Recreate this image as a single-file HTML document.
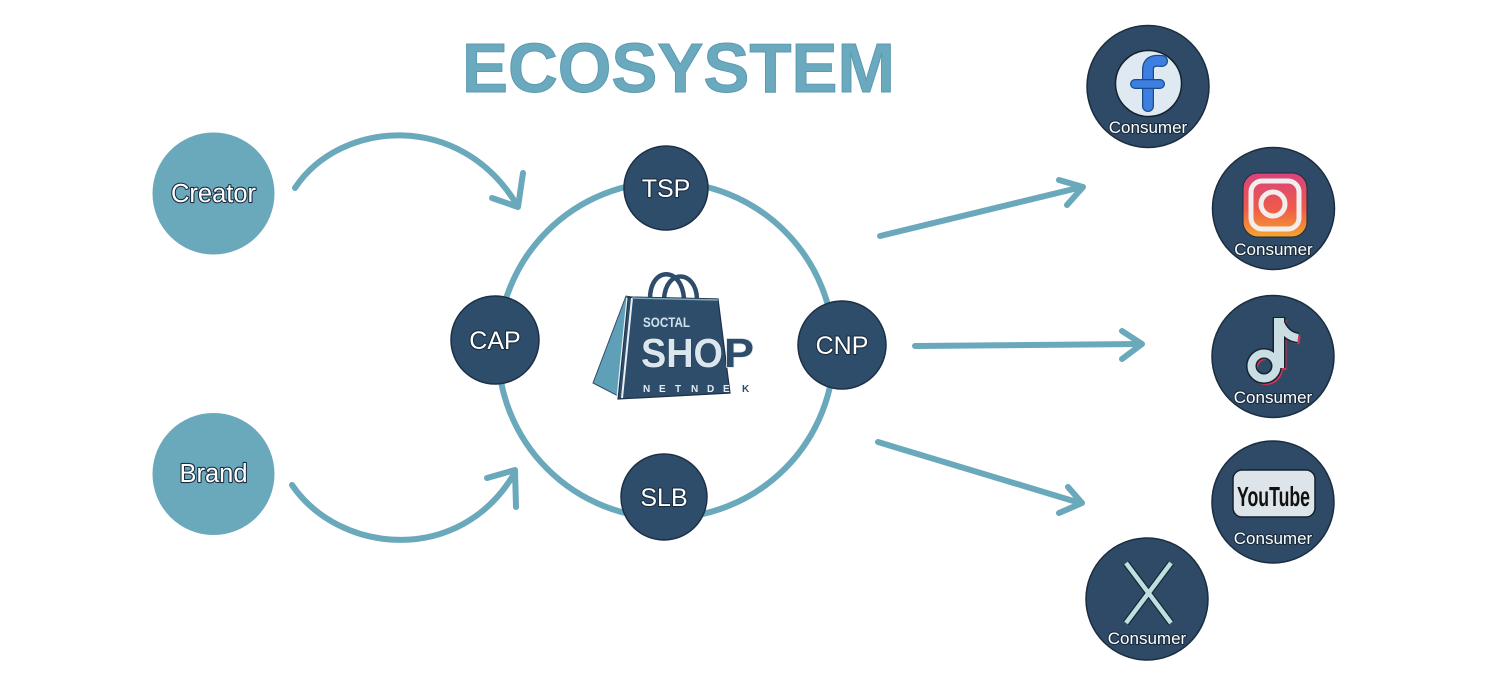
<!DOCTYPE html>
<html>
<head>
<meta charset="utf-8">
<style>
  html,body{margin:0;padding:0;background:#fff;}
  svg{display:block;}
  .lbl{font-family:"Liberation Sans",sans-serif;fill:#fff;stroke:#1a2c3f;stroke-width:2.2px;paint-order:stroke;stroke-linejoin:round;}
</style>
</head>
<body>
<svg width="1500" height="678" viewBox="0 0 1500 678" xmlns="http://www.w3.org/2000/svg">
  <!-- Title -->
  <text x="462" y="92" font-family="Liberation Sans, sans-serif" font-weight="bold" font-size="70" fill="#6aa9be" stroke="#5b9ab1" stroke-width="1" textLength="433" lengthAdjust="spacingAndGlyphs">ECOSYSTEM</text>

  <!-- Creator / Brand -->
  <circle cx="213.5" cy="193.5" r="61" fill="#6aa8bb"/>
  <text class="lbl" x="213.5" y="202" font-size="25.5" text-anchor="middle">Creator</text>
  <circle cx="213.5" cy="474" r="61" fill="#6aa8bb"/>
  <text class="lbl" x="213.5" y="482" font-size="25.5" text-anchor="middle">Brand</text>

  <!-- curved arrows -->
  <g fill="none" stroke="#6aa8bb" stroke-width="6" stroke-linecap="round" stroke-linejoin="round">
    <path d="M295 188 C340 120, 460 110, 517 205"/>
    <polyline points="523,173 518,207 492,198"/>
    <path d="M292 485 C340 555, 460 565, 514 474"/>
    <polyline points="487,478 515,470 516,507"/>
    <!-- right arrows -->
    <line x1="880" y1="236" x2="1082" y2="187"/>
    <polyline points="1059,180 1083,187 1067,205"/>
    <line x1="915" y1="346" x2="1140" y2="344"/>
    <polyline points="1122,331 1142,344 1122,359"/>
    <line x1="878" y1="442" x2="1080" y2="503"/>
    <polyline points="1068,487 1082,503 1059,513"/>
  </g>

  <!-- ring -->
  <circle cx="666" cy="350" r="168" fill="none" stroke="#6aa8bb" stroke-width="6"/>

  <!-- ring nodes -->
  <g fill="#2e4d6a" stroke="#1c3047" stroke-width="1.5">
    <circle cx="666" cy="188" r="42"/>
    <circle cx="495" cy="340" r="44"/>
    <circle cx="842" cy="345" r="44"/>
    <circle cx="664" cy="497" r="43"/>
  </g>
  <text class="lbl" x="666" y="197" font-size="25" text-anchor="middle">TSP</text>
  <text class="lbl" x="495" y="349" font-size="25" text-anchor="middle">CAP</text>
  <text class="lbl" x="842" y="354" font-size="25" text-anchor="middle">CNP</text>
  <text class="lbl" x="664" y="506" font-size="25" text-anchor="middle">SLB</text>

  <!-- shopping bag -->
  <g>
    <path d="M650 299 C650 266, 682 266, 684 299" fill="none" stroke="#2e4d6a" stroke-width="4.5"/>
    <path d="M664 299 C666 268, 696 270, 697 299" fill="none" stroke="#2e4d6a" stroke-width="4.5"/>
    <polygon points="626,296 593,383 622,398 632,297" fill="#5f9fb8" stroke="#2e4d6a" stroke-width="1"/>
    <polygon points="628,297 718,299 730,393 618,399" fill="#2e4d6a" stroke="#1c3047" stroke-width="1.2"/>
    <line x1="632" y1="298" x2="622" y2="398" stroke="#e8f0f4" stroke-width="2"/>
    <line x1="627" y1="298" x2="617" y2="398" stroke="#e8f0f4" stroke-width="1.2"/>
    <line x1="632" y1="298" x2="718" y2="300" stroke="#7fa9c0" stroke-width="1.5"/>
    <text x="643" y="327" font-family="Liberation Sans, sans-serif" font-weight="bold" font-size="14" fill="#cfe2ec" textLength="47" lengthAdjust="spacingAndGlyphs">SOCTAL</text>
    <text x="641" y="367" font-family="Liberation Sans, sans-serif" font-weight="bold" font-size="41" fill="#dbe7ee" stroke="#1c3047" stroke-width="1" paint-order="stroke" textLength="82" lengthAdjust="spacingAndGlyphs">SHO</text>
    <text x="724" y="367" font-family="Liberation Sans, sans-serif" font-weight="bold" font-size="41" fill="#2e4d6a" stroke="#dbe7ee" stroke-width="1.5" paint-order="stroke" textLength="30" lengthAdjust="spacingAndGlyphs">P</text>
    <g font-family="Liberation Sans, sans-serif" font-weight="bold" font-size="10" fill="#e3ecf1">
      <text x="643" y="392">N</text>
      <text x="659" y="392">E</text>
      <text x="675" y="392">T</text>
      <text x="691" y="392">N</text>
      <text x="707" y="392">D</text>
      <text x="723" y="392">E</text>
      <text x="742" y="392" fill="#2e4d6a">K</text>
    </g>
  </g>

  <!-- consumer circles -->
  <g fill="#2e4a66" stroke="#1b2d40" stroke-width="1.5">
    <circle cx="1148" cy="86.5" r="61"/>
    <circle cx="1273.5" cy="208.5" r="61"/>
    <circle cx="1273" cy="356.5" r="61"/>
    <circle cx="1273" cy="502" r="61"/>
    <circle cx="1147" cy="599" r="61"/>
  </g>

  <!-- Facebook -->
  <circle cx="1148.5" cy="83.5" r="33" fill="#dfe9f2" stroke="#14212f" stroke-width="1.5"/>
  <path d="M1148 106 L1148 70 C1148 62, 1153 60, 1162 61" fill="none" stroke="#1d4a8a" stroke-width="12" stroke-linecap="round"/>
  <path d="M1148 106 L1148 70 C1148 62, 1153 60, 1162 61" fill="none" stroke="#3d7fe0" stroke-width="9.5" stroke-linecap="round"/>
  <line x1="1135" y1="84" x2="1160" y2="84" stroke="#1d4a8a" stroke-width="10" stroke-linecap="round"/>
  <line x1="1135" y1="84" x2="1160" y2="84" stroke="#3d7fe0" stroke-width="7.5" stroke-linecap="round"/>
  <text class="lbl" x="1148" y="133" font-size="17" text-anchor="middle">Consumer</text>

  <!-- Instagram -->
  <defs>
    <linearGradient id="ig" x1="0" y1="0" x2="0" y2="1">
      <stop offset="0" stop-color="#d8437e"/>
      <stop offset="0.55" stop-color="#ee5a4a"/>
      <stop offset="1" stop-color="#f6a42c"/>
    </linearGradient>
  </defs>
  <rect x="1243" y="173" width="64" height="64" rx="15" fill="url(#ig)" stroke="#1b2d40" stroke-width="1"/>
  <rect x="1251" y="181" width="48" height="48" rx="11" fill="none" stroke="#f3eeee" stroke-width="5"/>
  <circle cx="1273" cy="204" r="12" fill="none" stroke="#f3eeee" stroke-width="5"/>
  <text class="lbl" x="1273.5" y="255" font-size="17" text-anchor="middle">Consumer</text>

  <!-- TikTok -->
  <g fill="none" stroke-linecap="butt">
    <g transform="translate(2,2)" stroke="#d23350">
      <circle cx="1264" cy="366" r="12.5" stroke-width="9"/>
      <line x1="1279" y1="318" x2="1279" y2="368" stroke-width="11"/>
      <path d="M1279 320 Q1284 336 1298 338" stroke-width="9"/>
    </g>
    <g stroke="#16222f">
      <circle cx="1264" cy="366" r="12.5" stroke-width="11"/>
      <line x1="1279" y1="317" x2="1279" y2="368" stroke-width="13"/>
      <path d="M1279 320 Q1284 336 1298 338" stroke-width="11"/>
    </g>
    <g stroke="#c9dde2">
      <circle cx="1264" cy="366" r="12.5" stroke-width="8"/>
      <line x1="1279" y1="318" x2="1279" y2="368" stroke-width="10"/>
      <path d="M1279 320 Q1284 336 1298 338" stroke-width="8"/>
    </g>
  </g>
  <text class="lbl" x="1273" y="403" font-size="17" text-anchor="middle">Consumer</text>

  <!-- YouTube -->
  <rect x="1233" y="470" width="82" height="47" rx="9" fill="#dde5ea" stroke="#14212f" stroke-width="1.5"/>
  <text x="1237" y="506" font-family="Liberation Sans, sans-serif" font-weight="bold" font-size="28" fill="#111" textLength="73" lengthAdjust="spacingAndGlyphs">YouTube</text>
  <text class="lbl" x="1273" y="544" font-size="17" text-anchor="middle">Consumer</text>

  <!-- X -->
  <g stroke-linecap="butt">
    <line x1="1126" y1="563" x2="1171" y2="623" stroke="#17283a" stroke-width="7"/>
    <line x1="1171" y1="563" x2="1126" y2="623" stroke="#17283a" stroke-width="7"/>
    <line x1="1126" y1="563" x2="1171" y2="623" stroke="#bfdede" stroke-width="4.5"/>
    <line x1="1171" y1="563" x2="1126" y2="623" stroke="#bfdede" stroke-width="4.5"/>
  </g>
  <text class="lbl" x="1147" y="644" font-size="17" text-anchor="middle">Consumer</text>
</svg>
</body>
</html>
